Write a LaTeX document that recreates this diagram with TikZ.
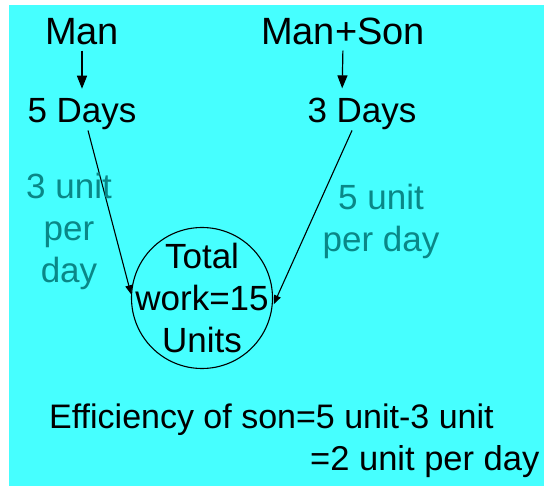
\documentclass[tikz,border=0pt]{standalone}
\usepackage{fontspec}
\setmainfont{Liberation Sans}
\usetikzlibrary{arrows.meta}

\definecolor{bgcyan}{RGB}{70,255,255}
\definecolor{rateteal}{RGB}{10,135,135}

\begin{document}
\begin{tikzpicture}[x=1pt, y=-1pt,
    big/.style={font=\fontsize{38}{44}\selectfont, inner sep=0pt},
    txt/.style={font=\fontsize{35}{42}\selectfont, inner sep=0pt},
    rate/.style={txt, text=rateteal, align=center},
    link/.style={line width=1.2pt, -{Triangle[length=13pt,width=10pt]}},
    slant/.style={line width=1.1pt, -{Triangle[length=9pt,width=7pt]}}]
\useasboundingbox (0,0) rectangle (544,489);
% --- Background ---
\fill[bgcyan] (9,5) rectangle (544,486);

% --- Who works ---
\node[big, anchor=base] (man) at (82,45) {Man};
\node[big, anchor=base] (manson) at (343,45) {Man+Son};

% --- Days taken ---
\node[txt, anchor=base] (days5) at (82,123) {5 Days};
\node[txt, anchor=base] (days3) at (362,123) {3 Days};
\draw[link, shorten <=5pt, shorten >=10pt] (man.south) -- (days5.north);
\draw[link, shorten <=5pt, shorten >=10pt] (manson.south) -- ([xshift=-20pt]days3.north);

% --- Total work (text runs over the circle) ---
\node[txt, align=center] (total) at (202,298) {Total\\work=15\\Units};
\draw[line width=1.1pt] (total.center) circle (70.5pt);
\coordinate (inL) at ([shift={(177:71pt)}]total.center);
\coordinate (inR) at ([shift={(-5:72pt)}]total.center);
\draw[slant] ([xshift=6pt]days5.south) -- (inL);
\draw[slant] ([xshift=-10pt]days3.south) -- (inR);

% --- Rates ---
\node[rate] (rateman) at (69,231) {3 unit\\per\\day};
\node[rate] (rateboth) at (381,221) {5 unit\\per day};

% --- Result ---
\node[txt, font=\fontsize{34}{42}\selectfont, anchor=north west, align=left] (eff) at (49,404)
    {Efficiency of son=5 unit-3 unit\\\hspace*{261pt}{\fontsize{34.5}{42}\selectfont =2 unit per day}};
\end{tikzpicture}
\end{document}
